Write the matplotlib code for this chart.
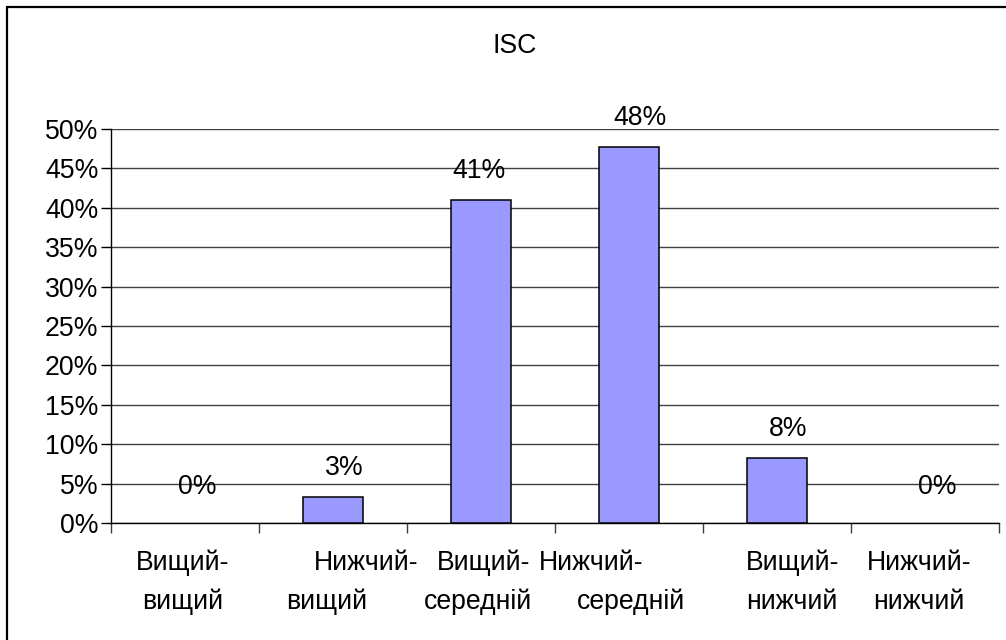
import matplotlib.pyplot as plt
import matplotlib.patches as patches
import numpy as np

# Data
categories = [("Вищий-", "вищий"), ("Нижчий-", "вищий"), ("Вищий-", "середній"),
              ("Нижчий-", "середній"), ("Вищий-", "нижчий"), ("Нижчий-", "нижчий")]
values = [0.0, 3.3, 41.0, 47.7, 8.3, 0.0]
title = "ISC"

plt.rcParams['font.family'] = ['Liberation Sans', 'DejaVu Sans']
fs = 19.2

fig = plt.figure(figsize=(10.06, 6.4), dpi=100)
ax = fig.add_axes([111 / 1006, 1 - 523 / 640, (999 - 111) / 1006, (523 - 129) / 640])

x = np.arange(len(values))
bars = ax.bar(x, values, width=0.405, color="#9999FF", edgecolor="black",
              linewidth=[1.1 if v > 0 else 0 for v in values], zorder=3)

ax.set_xlim(-0.5, len(values) - 0.5)
ax.set_ylim(0, 50)
ax.set_yticks(np.arange(0, 51, 5))
ax.set_yticklabels([f"{v}%" for v in range(0, 51, 5)], fontsize=fs)
ax.yaxis.grid(True, color="#404040", linewidth=1, zorder=0)
ax.tick_params(axis="y", length=7, width=1, pad=2)

# x ticks sit on category boundaries, labels drawn separately
ax.set_xticks(np.arange(-0.5, len(values), 1))
ax.set_xticklabels([])
ax.tick_params(axis="x", length=7, width=1, color="#404040")

for side in ["top", "right"]:
    ax.spines[side].set_visible(False)
ax.spines["left"].set_linewidth(1)
ax.spines["bottom"].set_linewidth(1)

# value labels above bars
label_dx = [12, 11, -2, 11, 11, 12]
for i, (b, v) in enumerate(zip(bars, values)):
    dy = 36 if v == 0 else 29
    ax.annotate(f"{round(v)}%", (b.get_x() + b.get_width() / 2, v), xytext=(label_dx[i], dy),
                textcoords="offset pixels", ha="center", va="center", fontsize=fs)

# two-line category labels, positioned like the original wrapping
dx1 = [-2, 33, 3, -38, 16, -6]
dx2 = [-2, -6, -3, 2, 15, -6]
for i, (l1, l2) in enumerate(categories):
    ax.annotate(l1, (i, 0), xycoords=("data", "axes fraction"), xytext=(dx1[i], -40),
                textcoords="offset pixels", ha="center", va="center", fontsize=fs)
    ax.annotate(l2, (i, 0), xycoords=("data", "axes fraction"), xytext=(dx2[i], -79),
                textcoords="offset pixels", ha="center", va="center", fontsize=fs)

fig.text(515 / 1006, 1 - 46 / 640, title, ha="center", va="center", fontsize=fs)

# chart area border (cropped on right and bottom in the original)
border = patches.Rectangle((7 / 1006, -0.05), 1.2, 1 - 7 / 640 + 0.05, transform=fig.transFigure,
                           fill=False, edgecolor="black", linewidth=1.6, clip_on=False)
fig.patches.append(border)

fig.savefig("out.png", dpi=100)
